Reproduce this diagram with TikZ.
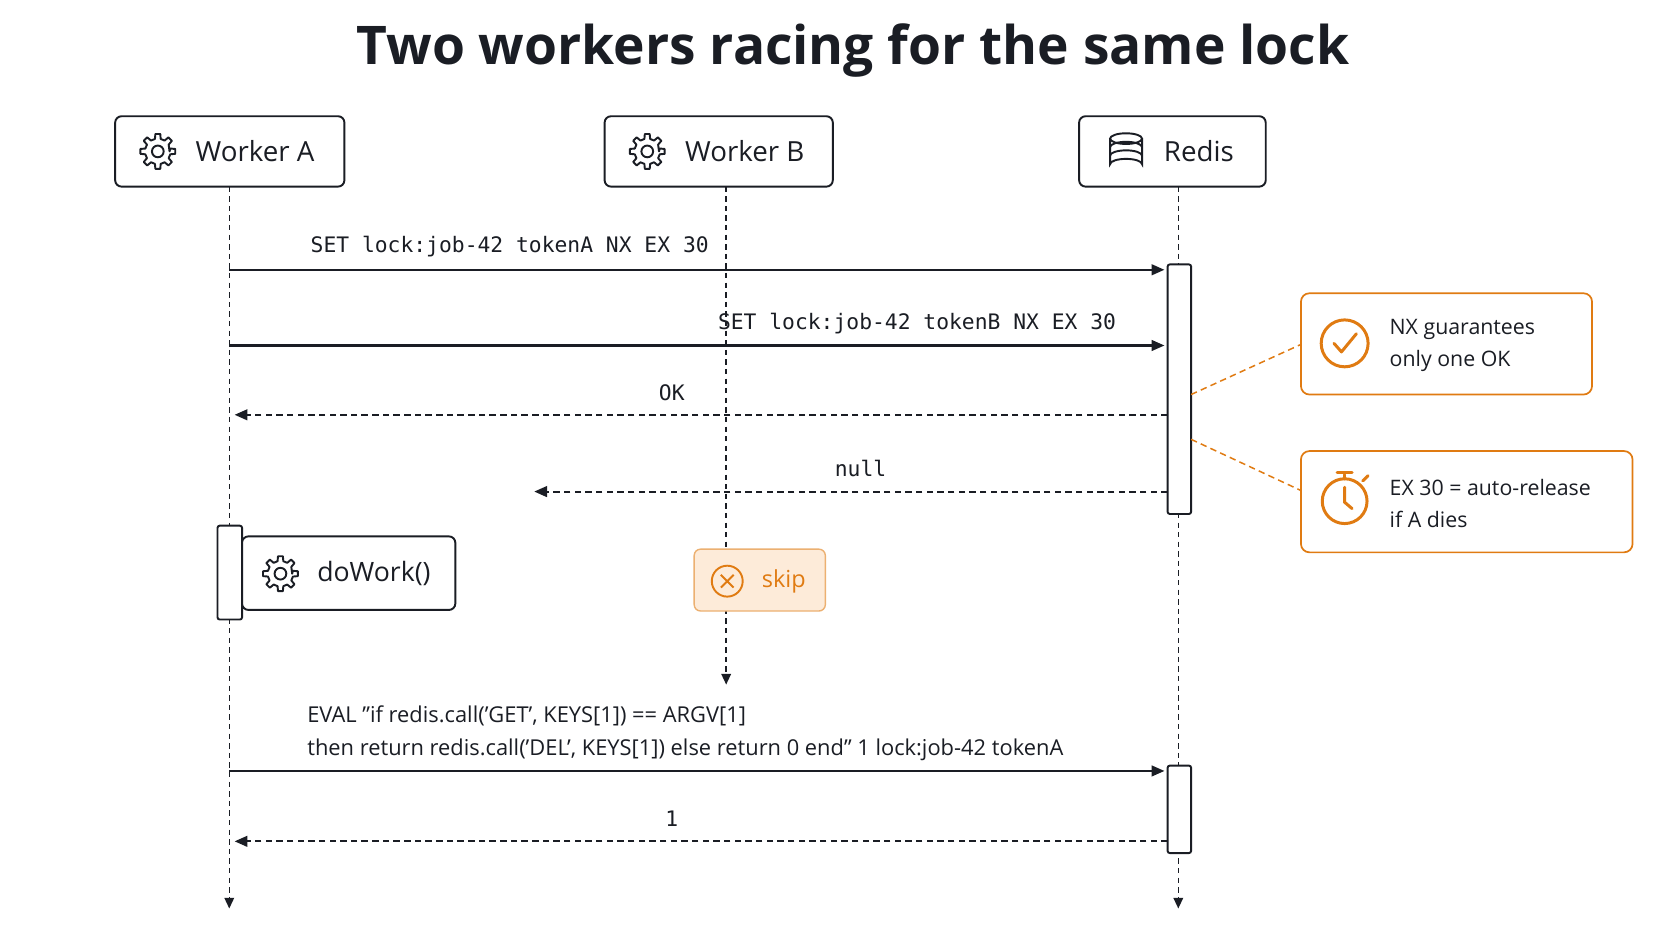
\documentclass[tikz,border=0pt]{standalone}
\usepackage{fontspec}
\setmainfont{Open Sans}[Ligatures=ResetAll]
\setmonofont{DejaVu Sans Mono}
\usetikzlibrary{arrows.meta}
\definecolor{ink}{HTML}{1A1D24}
\definecolor{org}{HTML}{E07B12}
\definecolor{orgbg}{HTML}{FDEBD9}
\begin{document}
\begin{tikzpicture}[x=1pt,y=-1pt,
  actor/.style={draw=ink,line width=1.8pt,rounded corners=6pt,fill=white},
  life/.style={draw=ink,line width=1.4pt,dash pattern=on 5pt off 4pt},
  act/.style={draw=ink,line width=1.8pt,fill=white,rounded corners=2pt},
  msg/.style={draw=ink,line width=2pt,-{Triangle[length=12pt,width=10pt]}},
  ret/.style={msg,dash pattern=on 6pt off 4pt},
  lbl/.style={font=\fontsize{20}{24}\selectfont\ttfamily,text=ink,inner sep=0},
  note/.style={draw=org,line width=1.6pt,rounded corners=8pt,fill=white},
  ntxt/.style={font=\fontsize{20}{30}\selectfont,text=ink,align=left,anchor=west,inner sep=0},
  aname/.style={anchor=west,font=\fontsize{26}{30}\selectfont,text=ink},
  gear/.pic={\draw[line width=1.8pt,line join=round] (0:11) \foreach \a in {0,45,...,315}{ -- (\a-13:12) -- (\a-8:16.5) -- (\a+8:16.5) -- (\a+13:12)} -- cycle; \draw[line width=1.8pt] (0,0) circle (5.5);}
]
\useasboundingbox (0,0) rectangle (1568,882);
\fill[white] (0,0) rectangle (1568,882);
\node[font=\fontsize{50}{60}\selectfont\bfseries,text=ink] (title) at (800,47) {Two workers racing for the same lock};
% actors
\draw[actor] (108,109) rectangle (323,175); \node[aname] (wa) at (180,142) {Worker A};
\pic[ink] at (148,142) {gear};
\draw[actor] (567,109) rectangle (781,175); \node[aname] (wb) at (639,142) {Worker B};
\pic[ink] at (607,142) {gear};
\draw[actor] (1012,109) rectangle (1187,175); \node[aname] (rd) at (1088,142) {Redis};
\begin{scope}[ink,line width=1.8pt]
\draw (1041,130) -- (1041,154) arc[start angle=180,end angle=360,x radius=15,y radius=5] -- (1071,130);
\draw (1056,130) ellipse (15 and 5);
\draw (1041,138) arc[start angle=180,end angle=360,x radius=15,y radius=5];
\draw (1041,146) arc[start angle=180,end angle=360,x radius=15,y radius=5];
\end{scope}
% lifelines
\coordinate (aT) at (215,175); \coordinate (aE) at (215,852);
\coordinate (bT) at (681,175); \coordinate (bE) at (681,642);
\coordinate (rT) at (1105,175); \coordinate (rE) at (1105,852);
\draw[life,-{Triangle[length=10pt,width=9pt]}] (aT) -- (aE);
\draw[life,-{Triangle[length=10pt,width=9pt]}] (bT) -- (bE);
\draw[life,-{Triangle[length=10pt,width=9pt]}] (rT) -- (rE);
% activations
\draw[act] (1095,248) rectangle (1117,482);
\draw[act] (1095,718) rectangle (1117,800);
\draw[act] (204,493) rectangle (227,581);
% messages
\coordinate (a1) at (215,253); \coordinate (r1) at (1092,253);
\draw[msg] (a1) -- (r1); \node[lbl] (l1) at (478,231) {SET lock:job-42 tokenA NX EX 30};
\coordinate (a2) at (215,324); \coordinate (r2) at (1092,324);
\draw[msg] (a2) -- (r2); \node[lbl] (l2) at (860,303) {SET lock:job-42 tokenB NX EX 30};
\coordinate (r3) at (1095,389); \coordinate (a3) at (220,389);
\draw[ret] (r3) -- (a3); \node[lbl] (l3) at (630,368) {OK};
\coordinate (r4) at (1095,461); \coordinate (b4) at (501,461);
\draw[ret] (r4) -- (b4); \node[lbl] (l4) at (807,439) {null};
% doWork
\draw[actor] (227,503) rectangle (427,572);
\pic[ink] at (263,538) {gear};
\node[anchor=west,font=\fontsize{25}{30}\selectfont,text=ink] (dw) at (294,538) {doWork()};
% skip
\draw[draw=org!60,fill=orgbg,line width=1.3pt,rounded corners=6pt] (651,515) rectangle (774,573);
\draw[org,line width=1.8pt] (682,545) circle (14.5);
\draw[org,line width=1.8pt] (676,539) -- (688,551) (688,539) -- (676,551);
\node[anchor=west,font=\fontsize{22}{26}\selectfont,text=org] (sk) at (711,545) {skip};
% EVAL
\node[anchor=west,align=left,font=\fontsize{20.5}{31}\selectfont,text=ink,inner sep=0] (ev) at (288,688) {EVAL "if redis.call('GET', KEYS[1]) == ARGV[1]\\then return redis.call('DEL', KEYS[1]) else return 0 end" 1 lock:job-42 tokenA};
\coordinate (a5) at (215,723); \coordinate (r5) at (1092,723);
\draw[msg] (a5) -- (r5);
\coordinate (r6) at (1095,789); \coordinate (a6) at (220,789);
\draw[ret] (r6) -- (a6); \node[lbl] (l6) at (630,768) {1};
% notes
\draw[note] (1220,275) rectangle (1493,370);
\draw[org,line width=2.8pt] (1261,322) circle (22);
\draw[org,line width=2.8pt,line cap=round,line join=round] (1251,322) -- (1258,330) -- (1272,313);
\node[ntxt] (n1) at (1303,324) {NX guarantees\\only one OK};
\draw[note] (1220,423) rectangle (1531,518);
\begin{scope}[org,line width=2.8pt,line cap=round]
\draw (1261,470) circle (21);
\draw (1261,445) -- (1261,449) (1254,443) -- (1268,443);
\draw (1278,451) -- (1283,446);
\draw (1261,457) -- (1261,471) -- (1268,477);
\end{scope}
\node[ntxt] (n2) at (1303,472) {EX 30 = auto-release\\if A dies};
\draw[org,line width=1.4pt,dash pattern=on 6pt off 4pt] (1117,370) -- (1220,323);
\draw[org,line width=1.4pt,dash pattern=on 6pt off 4pt] (1117,412) -- (1220,460);
\end{tikzpicture}
\end{document}
